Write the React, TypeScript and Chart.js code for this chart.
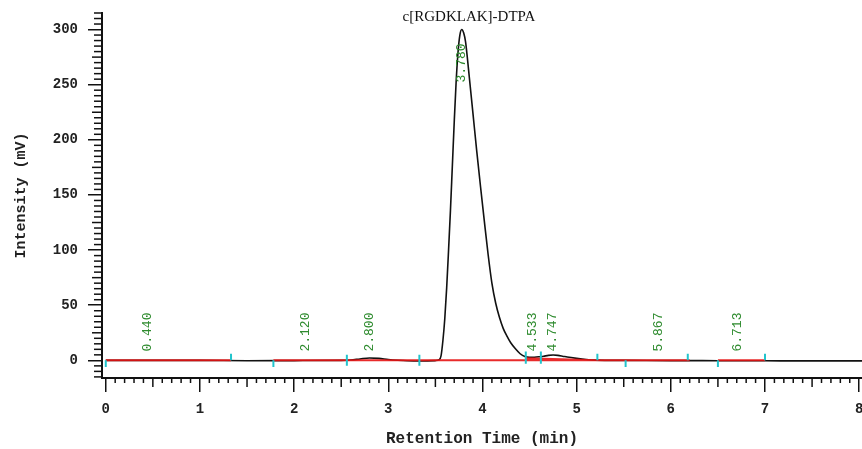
import React, { useEffect, useRef } from "react";
import { Chart, registerables } from "chart.js";

Chart.register(...registerables);

// ---- data ----
const timeMin = [
  0, 0.5, 1.0, 1.5, 2.0, 2.5, 2.6, 2.7, 2.8, 2.9, 3.0, 3.1, 3.2, 3.35, 3.5, 3.54,
  3.56, 3.58, 3.6, 3.62, 3.64, 3.66, 3.68, 3.7, 3.72, 3.74, 3.76, 3.78, 3.8, 3.82,
  3.84, 3.86, 3.9, 3.94, 3.98, 4.02, 4.06, 4.1, 4.14, 4.18, 4.22, 4.26, 4.3, 4.35, 4.4,
  4.45, 4.5, 4.55, 4.6, 4.65, 4.7, 4.75, 4.8, 4.85, 4.9, 5.0, 5.1, 5.2, 5.5, 6.0,
  6.5, 7.0, 7.5, 8.0, 8.03,
];
const intensity = [
  0, 0, 0, -0.3, -0.2, 0, 0.3, 1.3, 2.2, 1.8, 0.8, 0.1, -0.4, -0.6, -0.2, 0.5,
  4, 18, 38, 66, 100, 136, 176, 216, 252, 279, 295, 300, 297, 289,
  274, 257, 223, 189, 157, 126, 96, 70, 52, 39, 29, 22, 16, 10.5, 6,
  3.4, 2.7, 2.8, 3.2, 3.8, 4.5, 4.8, 4.5, 3.8, 3.0, 1.8, 0.8, 0.2, 0, -0.2,
  -0.3, -0.4, -0.5, -0.5, -0.5,
];

const peakTimes = [0.44, 2.12, 2.8, 3.78, 4.533, 4.747, 5.867, 6.713];
const peakLabels = ["0.440", "2.120", "2.800", "3.780", "4.533", "4.747", "5.867", "6.713"];
const peakLabelBase = [8, 8, 8, 252, 8, 8, 8, 8];

const baselineStartT = [0, 1.78, 6.5, 4.46];
const baselineStartY = [0, 0, 0, 1.8];
const baselineEndT = [1.33, 6.2, 7.0, 5.22];
const baselineEndY = [0, 0, 0, 0];

const markerTimes = [0.0, 1.33, 1.78, 2.56, 3.33, 4.46, 4.62, 5.22, 5.52, 6.18, 6.5, 7.0];
const markerLow = [-6, 0, -6, -5, -5, -3, -3, 0, -6, 0, -6, 0];
const markerHigh = [0, 6, 0, 5, 5, 8, 8, 6, 0, 6, 0, 6];

const xTickValues = [0, 1, 2, 3, 4, 5, 6, 7, 8];
const yTickValues = [0, 50, 100, 150, 200, 250, 300];
const xMinorStep = 0.1;
const yMinorStep = 5;

const chartTitle = "c[RGDKLAK]-DTPA";
const xTitle = "Retention Time (min)";
const yTitle = "Intensity (mV)";

const MONO = "'Liberation Mono', 'DejaVu Sans Mono', monospace";

const minorTicksPlugin = {
  id: "minorTicks",
  afterDraw(chart: any) {
    const { ctx, chartArea } = chart;
    const x = chart.scales.x;
    const y = chart.scales.y;
    ctx.save();
    ctx.strokeStyle = "#111";
    ctx.lineWidth = 1.5;
    const xs = Math.ceil(x.min / xMinorStep);
    const xe = Math.floor(x.max / xMinorStep + 1e-9);
    for (let i = xs; i <= xe; i++) {
      const v = Math.round(i * xMinorStep * 1000) / 1000;
      if (xTickValues.includes(v)) continue;
      const px = x.getPixelForValue(v);
      const len = i % 5 === 0 ? 9 : 5;
      ctx.beginPath();
      ctx.moveTo(px, chartArea.bottom);
      ctx.lineTo(px, chartArea.bottom + len);
      ctx.stroke();
    }
    const ys = Math.ceil(y.min / yMinorStep);
    const ye = Math.floor(y.max / yMinorStep);
    for (let i = ys; i <= ye; i++) {
      const v = i * yMinorStep;
      if (yTickValues.includes(v)) continue;
      const py = y.getPixelForValue(v);
      const len = i % 5 === 0 ? 10 : 8;
      ctx.beginPath();
      ctx.moveTo(chartArea.left, py);
      ctx.lineTo(chartArea.left - len, py);
      ctx.stroke();
    }
    ctx.restore();
  },
};

const peakLabelPlugin = {
  id: "peakLabels",
  afterDatasetsDraw(chart: any) {
    const { ctx } = chart;
    const x = chart.scales.x;
    const y = chart.scales.y;
    ctx.save();
    ctx.fillStyle = "#2e8b2e";
    ctx.font = `13px ${MONO}`;
    ctx.textAlign = "left";
    ctx.textBaseline = "middle";
    peakTimes.forEach((t, i) => {
      const px = x.getPixelForValue(t);
      const py = y.getPixelForValue(peakLabelBase[i]);
      ctx.save();
      ctx.translate(px, py);
      ctx.rotate(-Math.PI / 2);
      ctx.fillText(peakLabels[i], 0, 0);
      ctx.restore();
    });
    ctx.restore();
  },
};

const titlePlugin = {
  id: "topTitle",
  afterDraw(chart: any) {
    const { ctx } = chart;
    ctx.save();
    ctx.fillStyle = "#111";
    ctx.font = "15px 'Liberation Serif', 'DejaVu Serif', serif";
    ctx.textAlign = "center";
    ctx.textBaseline = "middle";
    ctx.fillText(chartTitle, 469, 17);
    ctx.restore();
  },
};

export default function App() {
  const ref = useRef<HTMLCanvasElement | null>(null);

  useEffect(() => {
    if (!ref.current) return;
    const trace = timeMin.map((t, i) => ({ x: t, y: intensity[i] }));
    const baseline: any[] = [];
    baselineStartT.forEach((t, i) => {
      baseline.push({ x: t, y: baselineStartY[i] });
      baseline.push({ x: baselineEndT[i], y: baselineEndY[i] });
      baseline.push({ x: baselineEndT[i], y: null });
    });
    const markers: any[] = [];
    markerTimes.forEach((t, i) => {
      markers.push({ x: t, y: markerLow[i] });
      markers.push({ x: t, y: markerHigh[i] });
      markers.push({ x: t, y: null });
    });

    const chart = new Chart(ref.current, {
      type: "line",
      data: {
        datasets: [
          {
            data: markers,
            borderColor: "#22c4cc",
            borderWidth: 2,
            pointRadius: 0,
            spanGaps: false,
            order: 0,
          },
          {
            data: baseline,
            borderColor: "rgba(230,20,20,0.9)",
            borderWidth: 2,
            pointRadius: 0,
            spanGaps: false,
            order: 1,
          },
          {
            data: trace,
            borderColor: "#111",
            borderWidth: 1.6,
            pointRadius: 0,
            cubicInterpolationMode: "monotone",
            order: 2,
          },
        ],
      },
      options: {
        animation: false,
        responsive: false,
        parsing: true,
        layout: { padding: { top: 13, right: 0, bottom: 0, left: 0 } },
        plugins: { legend: { display: false }, tooltip: { enabled: false }, title: { display: false } },
        scales: {
          x: {
            type: "linear",
            min: -0.04,
            max: 8.03,
            afterBuildTicks: (s: any) => {
              s.ticks = xTickValues.map((v) => ({ value: v }));
            },
            afterFit: (s: any) => {
              s.height = 71;
              s.paddingLeft = 0;
              s.paddingRight = 0;
            },
            ticks: {
              color: "#222",
              font: { family: MONO, size: 14, weight: "bold" },
              padding: 9,
              maxRotation: 0,
              autoSkip: false,
            },
            grid: { drawOnChartArea: false, drawTicks: true, tickLength: 14, color: "#111", lineWidth: 1.5 },
            border: { display: true, color: "#111", width: 2 },
            title: {
              display: true,
              text: xTitle,
              color: "#222",
              font: { family: MONO, size: 16, weight: "bold" },
              padding: { top: 0, bottom: 0 },
            },
          },
          y: {
            type: "linear",
            min: -16,
            max: 315,
            afterBuildTicks: (s: any) => {
              s.ticks = yTickValues.map((v) => ({ value: v }));
            },
            afterFit: (s: any) => {
              s.width = 102;
              s.paddingTop = 0;
              s.paddingBottom = 0;
            },
            ticks: {
              color: "#222",
              font: { family: MONO, size: 14, weight: "bold" },
              padding: 10,
              autoSkip: false,
            },
            grid: { drawOnChartArea: false, drawTicks: true, tickLength: 14, color: "#111", lineWidth: 1.5 },
            border: { display: true, color: "#111", width: 2 },
            title: {
              display: true,
              text: yTitle,
              color: "#222",
              font: { family: MONO, size: 15, weight: "bold" },
              padding: { top: 12, bottom: 0 },
            },
          },
        },
      } as any,
      plugins: [minorTicksPlugin, peakLabelPlugin, titlePlugin],
    });
    return () => chart.destroy();
  }, []);

  return (
    <div style={{ position: "absolute", left: 0, top: 0, width: 862, height: 449, background: "#fff" }}>
      <canvas ref={ref} width={862} height={449} />
    </div>
  );
}
